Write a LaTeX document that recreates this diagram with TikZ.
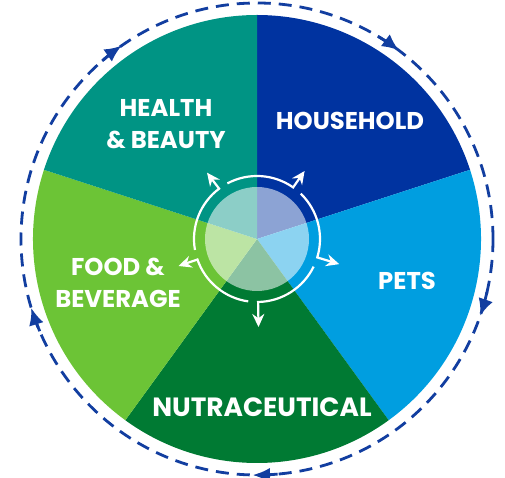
\documentclass[tikz,border=0pt]{standalone}
\usepackage{fontspec}
\setmainfont{Poppins}
\usetikzlibrary{arrows.meta}
\definecolor{household}{RGB}{0,51,160}
\definecolor{pets}{RGB}{0,158,224}
\definecolor{nutra}{RGB}{0,122,51}
\definecolor{food}{RGB}{108,196,54}
\definecolor{health}{RGB}{0,148,132}
\definecolor{loopblue}{RGB}{18,62,160}

\begin{document}
\begin{tikzpicture}[x=1pt,y=1pt,
  lbl/.style={text=white,font=\bfseries\fontsize{24.3}{31.5}\selectfont,align=center,inner sep=0pt},
  ringarrow/.style={white,line width=2.2pt,-{Stealth[length=13pt,width=12pt]}},
  loopdash/.style={loopblue,line width=2.8pt,dash pattern=on 13pt off 8pt},
  looptip/.style={loopblue,line width=2.8pt,-{Latex[length=17pt,width=15pt]}}]
\useasboundingbox (-257,-239) rectangle (248,239);
% sectors
\fill[household] (0,0) -- (90:224) arc[start angle=90,end angle=18,radius=224] -- cycle;
\fill[pets] (0,0) -- (18:224) arc[start angle=18,end angle=-54,radius=224] -- cycle;
\fill[nutra] (0,0) -- (-54:224) arc[start angle=-54,end angle=-126,radius=224] -- cycle;
\fill[food] (0,0) -- (-126:224) arc[start angle=-126,end angle=-198,radius=224] -- cycle;
\fill[health] (0,0) -- (162:224) arc[start angle=162,end angle=90,radius=224] -- cycle;
% outer dashed loop
\draw[loopdash] (0,0) circle[radius=236];
\draw[looptip] (131:236) arc[start angle=131,end angle=125,radius=236];
\draw[looptip] (59:236) arc[start angle=59,end angle=53,radius=236];
\draw[looptip] (-13:236) arc[start angle=-13,end angle=-19,radius=236];
\draw[looptip] (-85:236) arc[start angle=-85,end angle=-91,radius=236];
\draw[looptip] (-157:236) arc[start angle=-157,end angle=-163,radius=236];
% hub
\node[circle,fill=white,fill opacity=0.55,minimum size=104pt,inner sep=0pt] (hub) at (0,0) {};
\coordinate (t1) at (127:83);
\coordinate (t2) at (55:83);
\coordinate (t3) at (-17:86);
\coordinate (t4) at (-89:88);
\coordinate (t5) at (-161:83);
\draw[ringarrow] (190:63) arc[start angle=190,end angle=127,radius=63] -- (t1);
\draw[ringarrow] (118:63) arc[start angle=118,end angle=55,radius=63] -- (t2);
\draw[ringarrow] (46:63) arc[start angle=46,end angle=-17,radius=63] -- (t3);
\draw[ringarrow] (-26:63) arc[start angle=-26,end angle=-89,radius=63] -- (t4);
\draw[ringarrow] (-98:63) arc[start angle=-98,end angle=-161,radius=63] -- (t5);
% labels
\node[lbl] (hh) at (93,118) {HOUSEHOLD};
\node[lbl] (hb) at (-91,115) {HEALTH\\\& BEAUTY};
\node[lbl] (pt) at (150,-42) {PETS};
\node[lbl] (fb) at (-139,-44) {FOOD \&\\BEVERAGE};
\node[lbl,font=\bfseries\fontsize{26.4}{31}\selectfont] (nc) at (5,-168) {NUTRACEUTICAL};
\end{tikzpicture}
\end{document}
